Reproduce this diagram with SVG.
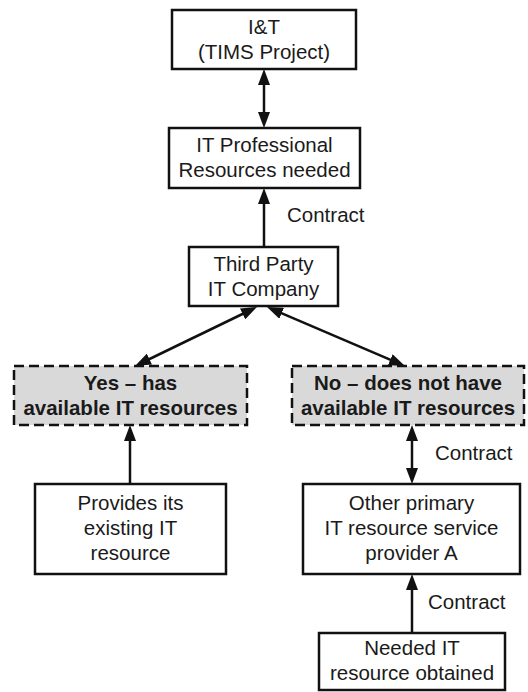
<svg xmlns="http://www.w3.org/2000/svg" width="528" height="692" viewBox="0 0 528 692">
  <style>
    .box { fill: #ffffff; stroke: #111111; stroke-width: 2.5; }
    .opt { fill: #d9d9d9; stroke: #111111; stroke-width: 2.5; stroke-dasharray: 10 5; }
    .t { font-family: "Liberation Sans", Arial, sans-serif; font-size: 20.5px; fill: #1a1a1a; text-anchor: middle; }
    .b { font-weight: bold; }
    .lbl { font-family: "Liberation Sans", Arial, sans-serif; font-size: 20.5px; fill: #1a1a1a; }
    .link { stroke: #111111; stroke-width: 2.5; fill: none; }
    .one { marker-end: url(#head); }
    .two { marker-start: url(#head); marker-end: url(#head); }
  </style>
  <defs>
    <marker id="head" viewBox="0 0 16 12" markerWidth="16" markerHeight="12" markerUnits="userSpaceOnUse" refX="1" refY="6" orient="auto-start-reverse">
      <path d="M0,0 L16,6 L0,12 z" fill="#111111"/>
    </marker>
  </defs>
  <rect width="528" height="692" fill="#ffffff"/>

  <g id="connectors">
    <line class="link two" x1="264" y1="84" x2="264" y2="113"/>
    <line class="link one" x1="264" y1="247" x2="264" y2="203"/>
    <text class="lbl" x="287" y="222">Contract</text>
    <line class="link two" x1="243.5" y1="313.5" x2="148.5" y2="359.5"/>
    <line class="link two" x1="280.8" y1="312.9" x2="391.2" y2="360.1"/>
    <line class="link one" x1="130" y1="484" x2="130" y2="440"/>
    <line class="link two" x1="412" y1="440" x2="412" y2="469"/>
    <text class="lbl" x="435" y="460">Contract</text>
    <line class="link one" x1="412" y1="633" x2="412" y2="589"/>
    <text class="lbl" x="428" y="609">Contract</text>
  </g>

  <g id="it-project">
    <rect class="box" x="172" y="10" width="184" height="59"/>
    <text class="t" x="264" y="34">I&amp;T</text>
    <text class="t" x="264" y="59">(TIMS Project)</text>
  </g>

  <g id="resources-needed">
    <rect class="box" x="169" y="128" width="191" height="60"/>
    <text class="t" x="264.5" y="152">IT Professional</text>
    <text class="t" x="264.5" y="177">Resources needed</text>
  </g>

  <g id="third-party">
    <rect class="box" x="189" y="247" width="149" height="59"/>
    <text class="t" x="263.5" y="271">Third Party</text>
    <text class="t" x="263.5" y="296">IT Company</text>
  </g>

  <g id="has-resources">
    <rect class="opt" x="14" y="366" width="233" height="59"/>
    <text class="t b" x="130.5" y="390">Yes – has</text>
    <text class="t b" x="130.5" y="415">available IT resources</text>
  </g>

  <g id="no-resources">
    <rect class="opt" x="292" y="366" width="232" height="59"/>
    <text class="t b" x="408" y="390">No – does not have</text>
    <text class="t b" x="408" y="415">available IT resources</text>
  </g>

  <g id="existing-resource">
    <rect class="box" x="35" y="484" width="191" height="90"/>
    <text class="t" x="130.5" y="510">Provides its</text>
    <text class="t" x="130.5" y="535">existing IT</text>
    <text class="t" x="130.5" y="560">resource</text>
  </g>

  <g id="provider-a">
    <rect class="box" x="303" y="484" width="217" height="90"/>
    <text class="t" x="411.5" y="510">Other primary</text>
    <text class="t" x="411.5" y="535">IT resource service</text>
    <text class="t" x="411.5" y="560">provider A</text>
  </g>

  <g id="resource-obtained">
    <rect class="box" x="319" y="633" width="186" height="57"/>
    <text class="t" x="412" y="655">Needed IT</text>
    <text class="t" x="412" y="680">resource obtained</text>
  </g>
</svg>
